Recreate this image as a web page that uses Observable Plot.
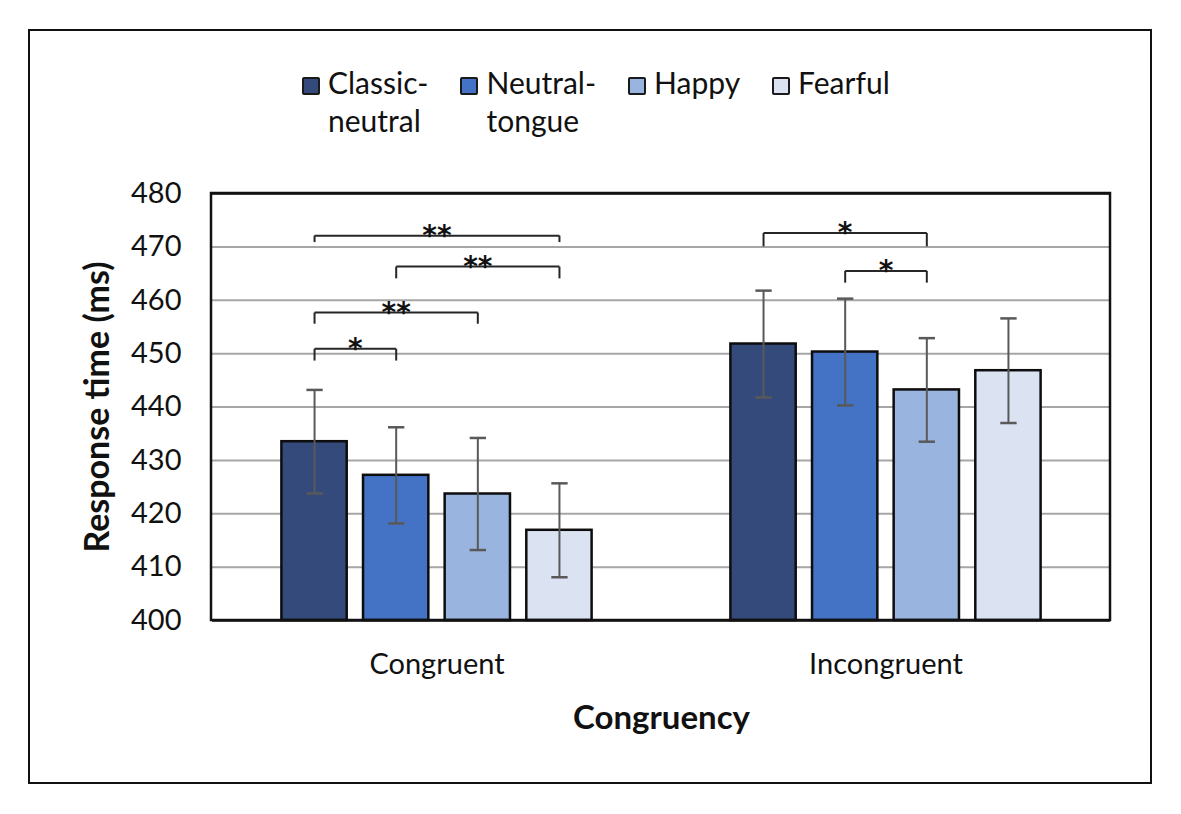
<!DOCTYPE html>
<html>
<head>
<meta charset="utf-8">
<script src="https://cdn.jsdelivr.net/npm/d3@7"></script>
<script src="https://cdn.jsdelivr.net/npm/@observablehq/plot@0.6"></script>
<style>
  body { margin: 0; background: #fff; }
  #wrap { position: relative; width: 1181px; height: 814px; overflow: hidden; background: #fff; }
  #border { position: absolute; left: 28px; top: 29px; width: 1124px; height: 755px; border: 2.5px solid #111; box-sizing: border-box; pointer-events: none; }
  #chart { position: absolute; left: 0; top: 0; }
  #legend { position: absolute; left: 302px; top: 63px; display: flex; gap: 32px; font-family: Lato, sans-serif; font-size: 30px; line-height: 38px; color: #111; z-index: 2; }
  .item { display: flex; align-items: flex-start; }
  .sw { width: 18px; height: 18px; margin-top: 14px; box-sizing: border-box; border: 2px solid #1a1a1a; border-radius: 2px; }
  .lab { margin-left: 8px; }
</style>
</head>
<body>
<div id="wrap">
  <div id="border"></div>
  <div id="legend"></div>
  <div id="chart"></div>
</div>
<script>
// ---- data ----
const congruency = ["Congruent", "Incongruent"];
const conditions = ["Classic-neutral", "Neutral-tongue", "Happy", "Fearful"];
const congruentMeans = [433.5, 427.2, 423.7, 416.9];
const congruentErrors = [9.7, 9.0, 10.5, 8.8];
const incongruentMeans = [451.8, 450.3, 443.2, 446.8];
const incongruentErrors = [10.0, 10.0, 9.7, 9.8];
const yTicks = [400, 410, 420, 430, 440, 450, 460, 470, 480];
const barColors = ["#344a7a", "#4472c4", "#9ab4e0", "#dbe3f2"];

// significance brackets
const bracketGroup = ["Congruent", "Congruent", "Congruent", "Congruent", "Incongruent", "Incongruent"];
const bracketFrom = [0, 1, 0, 0, 0, 1];
const bracketTo = [3, 3, 2, 1, 2, 2];
const bracketLevel = [472.1, 466.3, 457.7, 450.9, 472.6, 465.5];
const bracketEnd = [470.9, 464.1, 455.6, 448.7, 470.1, 463.3];
const bracketLabel = ["**", "**", "**", "*", "*", "*"];

// ---- tables ----
const means = {Congruent: congruentMeans, Incongruent: incongruentMeans};
const errs = {Congruent: congruentErrors, Incongruent: incongruentErrors};
const rows = [];
for (const g of congruency) conditions.forEach((c, i) => rows.push({group: g, cond: c, i, mean: means[g][i], err: errs[g][i]}));
const br = bracketGroup.map((g, k) => ({group: g, from: bracketFrom[k], to: bracketTo[k], level: bracketLevel[k], end: bracketEnd[k], label: bracketLabel[k]}));

// ---- legend ----
const legend = document.getElementById("legend");
conditions.forEach((c, i) => {
  const item = document.createElement("div"); item.className = "item";
  const sw = document.createElement("div"); sw.className = "sw"; sw.style.background = barColors[i];
  const lab = document.createElement("div"); lab.className = "lab";
  const parts = c.split("-");
  if (parts.length > 1) { lab.innerHTML = parts[0] + "-<br>" + parts.slice(1).join("-"); } else { lab.textContent = c; }
  item.appendChild(sw); item.appendChild(lab); legend.appendChild(item);
});

// ---- plot ----
const W = 1181, H = 814, mL = 211, mR = 71, mT = 193, mB = 194;
const lineCol = "#262626", errCol = "#595959";
const plot = Plot.plot({
  width: W, height: H,
  marginLeft: mL, marginRight: mR, marginTop: mT, marginBottom: mB,
  style: {fontFamily: "Lato, sans-serif", fontSize: "29px", color: "#111", background: "transparent", overflow: "visible"},
  fx: {domain: congruency, padding: 0, axis: "bottom", label: null, tickSize: 0, tickPadding: 33},
  x: {domain: [-1.25, 4.25], axis: null},
  y: {domain: [400, 480], ticks: yTicks, tickSize: 0, tickPadding: 31, label: null},
  color: {domain: conditions, range: barColors},
  marks: [
    Plot.ruleY(yTicks.slice(1, -1), {stroke: "#a6a6a6", strokeWidth: 2}),
    Plot.ruleY([yTicks[0], yTicks[yTicks.length - 1]], {stroke: "#111", strokeWidth: 2.5}),
    Plot.rect(rows, {fx: "group", x1: d => d.i - 0.4, x2: d => d.i + 0.4, y1: d => yTicks[0], y2: "mean", fill: "cond", stroke: "#0d0d0d", strokeWidth: 2.5}),
    Plot.ruleX(rows, {fx: "group", x: "i", y1: d => d.mean - d.err, y2: d => d.mean + d.err, stroke: errCol, strokeWidth: 2}),
    Plot.link(rows, {fx: "group", x1: d => d.i - 0.1, x2: d => d.i + 0.1, y1: d => d.mean + d.err, y2: d => d.mean + d.err, stroke: errCol, strokeWidth: 2.5}),
    Plot.link(rows, {fx: "group", x1: d => d.i - 0.1, x2: d => d.i + 0.1, y1: d => d.mean - d.err, y2: d => d.mean - d.err, stroke: errCol, strokeWidth: 2.5}),
    Plot.link(br, {fx: "group", x1: "from", x2: "to", y1: "level", y2: "level", stroke: lineCol, strokeWidth: 2}),
    Plot.link(br, {fx: "group", x1: "from", x2: "from", y1: "level", y2: "end", stroke: lineCol, strokeWidth: 2}),
    Plot.link(br, {fx: "group", x1: "to", x2: "to", y1: "level", y2: "end", stroke: lineCol, strokeWidth: 2}),
    Plot.text(br, {fx: "group", x: d => (d.from + d.to) / 2, y: "level", text: "label", lineAnchor: "bottom", dy: 9, fontSize: 28, fontWeight: "bold", fontFamily: "DejaVu Sans", fill: "#111"}),
    Plot.text([congruency[0]], {fx: d => d, frameAnchor: "left", textAnchor: "middle", text: () => "Response time (ms)", rotate: -90, dx: -114, fontSize: 34, fontWeight: "bold", fill: "#111"}),
    Plot.text([congruency[0]], {fx: d => d, frameAnchor: "bottom-right", textAnchor: "middle", lineAnchor: "bottom", text: () => "Congruency", dy: 108, fontSize: 33, fontWeight: "bold", fill: "#111"})
  ]
});
d3.select(plot).append("rect")
  .attr("x", mL).attr("y", mT).attr("width", W - mL - mR).attr("height", H - mT - mB)
  .attr("fill", "none").attr("stroke", "#111").attr("stroke-width", 2.5);
document.getElementById("chart").appendChild(plot);
</script>
</body>
</html>
